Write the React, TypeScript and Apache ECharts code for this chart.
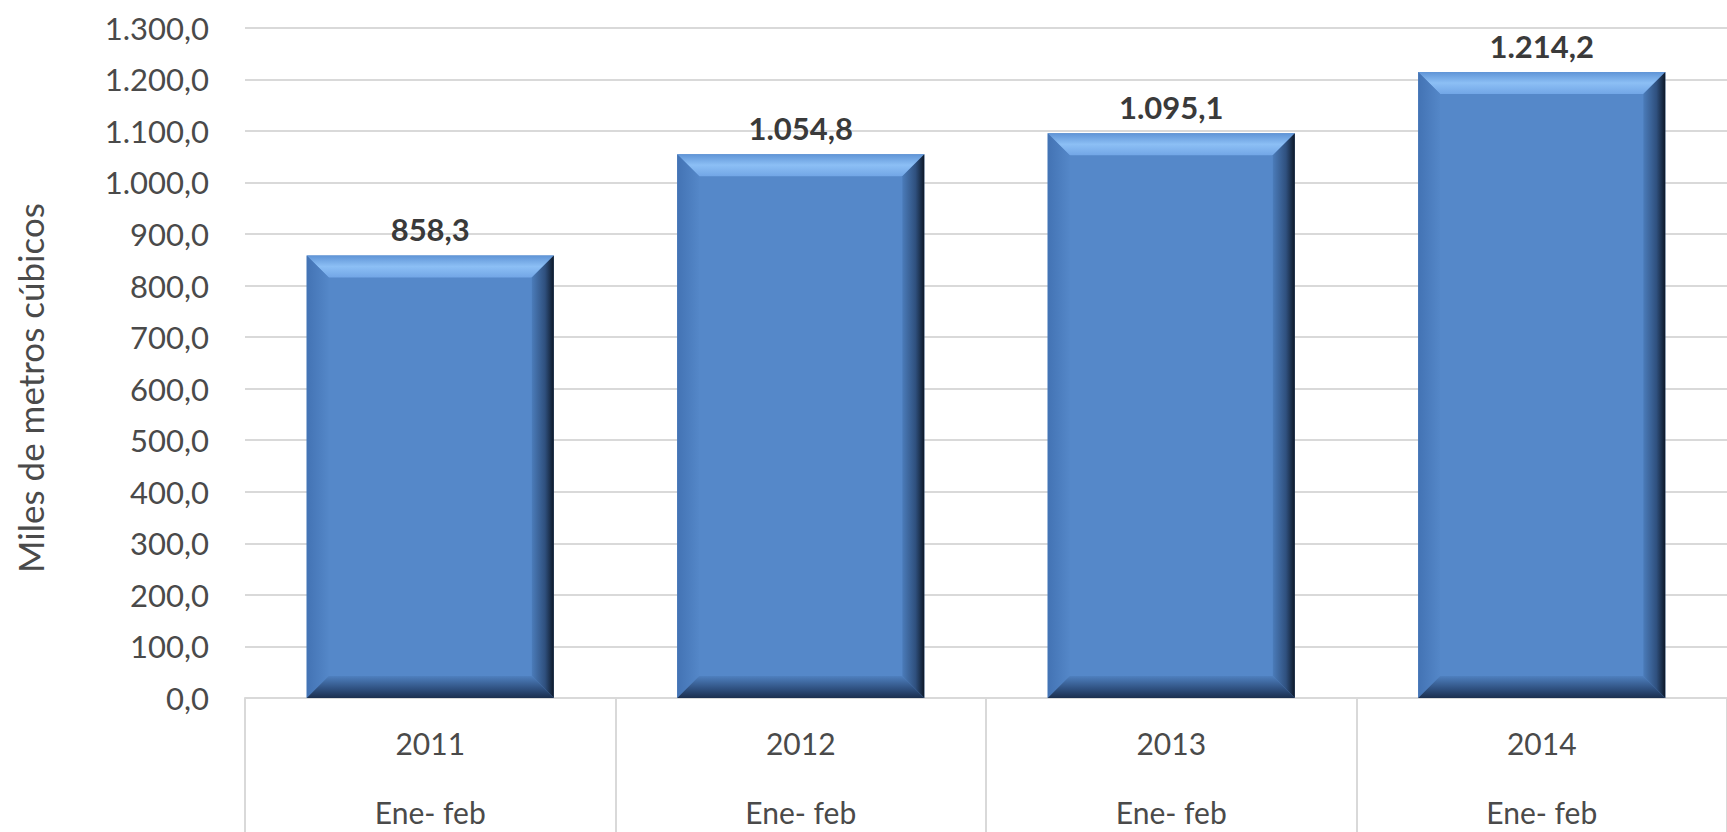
import React, { useEffect, useRef } from "react";
import * as echarts from "echarts";

const categories = ["2011", "2012", "2013", "2014"];
const periodLabels = ["Ene- feb", "Ene- feb", "Ene- feb", "Ene- feb"];
const values = [858.3, 1054.8, 1095.1, 1214.2];
const yAxisTitle = "Miles de metros cúbicos";
const yMin = 0;
const yMax = 1300;
const yInterval = 100;

const FONT = "Lato, 'Open Sans', sans-serif";
const TEXT = "#4a4a4a";

function fmt(v: number): string {
  const [i, d] = v.toFixed(1).split(".");
  return i.replace(/\B(?=(\d{3})+(?!\d))/g, ".") + "," + d;
}

export default function App() {
  const ref = useRef<HTMLDivElement>(null);

  useEffect(() => {
    document.body.style.margin = "0";
    document.body.style.overflow = "hidden";
    const chart = echarts.init(ref.current!, null, { renderer: "svg" });

    const renderItem = (params: any, api: any) => {
      const idx = api.value(0);
      const val = api.value(1);
      const top = api.coord([idx, val]);
      const base = api.coord([idx, 0]);
      const w = api.size([1, 0])[0] * 0.667;
      const x0 = top[0] - w / 2;
      const x1 = top[0] + w / 2;
      const yt = top[1];
      const yb = base[1];
      const b = 22;
      const G = echarts.graphic.LinearGradient;
      return {
        type: "group",
        children: [
          {
            type: "rect",
            shape: { x: x0, y: yt, width: w, height: yb - yt },
            style: { fill: "#5588c9" },
          },
          {
            type: "polygon",
            shape: { points: [[x0, yt], [x1, yt], [x1 - b, yt + b], [x0 + b, yt + b]] },
            style: {
              fill: new G(0, 0, 0, 1, [
                { offset: 0, color: "#5f94d6" },
                { offset: 0.5, color: "#8cbff5" },
                { offset: 1, color: "#72a6e6" },
              ]),
            },
          },
          {
            type: "polygon",
            shape: { points: [[x0, yt], [x0 + b, yt + b], [x0 + b, yb - b], [x0, yb]] },
            style: {
              fill: new G(0, 0, 1, 0, [
                { offset: 0, color: "#4373b4" },
                { offset: 1, color: "#5487c8" },
              ]),
            },
          },
          {
            type: "polygon",
            shape: { points: [[x1, yt], [x1, yb], [x1 - b, yb - b], [x1 - b, yt + b]] },
            style: {
              fill: new G(0, 0, 1, 0, [
                { offset: 0, color: "#4b7cba" },
                { offset: 0.6, color: "#2f507e" },
                { offset: 1, color: "#0d1828" },
              ]),
            },
          },
          {
            type: "polygon",
            shape: { points: [[x0, yb], [x1, yb], [x1 - b, yb - b], [x0 + b, yb - b]] },
            style: {
              fill: new G(0, 0, 0, 1, [
                { offset: 0, color: "#4f80bf" },
                { offset: 0.6, color: "#2e4f7e" },
                { offset: 1, color: "#1b2f4e" },
              ]),
            },
          },
          {
            type: "text",
            x: top[0],
            y: yt - 26,
            style: {
              text: fmt(val),
              fill: "#3a3a3a",
              fontSize: 31,
              fontWeight: "bold",
              fontFamily: FONT,
              align: "center",
              verticalAlign: "middle",
            },
          },
        ],
      };
    };

    chart.setOption({
      animation: false,
      backgroundColor: "#ffffff",
      grid: { left: 245, right: -12, top: 27.7, bottom: 134, containLabel: false },
      xAxis: {
        type: "category",
        data: categories,
        axisLine: { show: true, lineStyle: { color: "#d9d9d9", width: 2 } },
        axisTick: { show: true, length: 140, interval: 0, lineStyle: { color: "#d9d9d9", width: 2 } },
        axisLabel: {
          interval: 0,
          margin: 10,
          formatter: (value: string, index: number) => `{a|${value}}\n{b|${periodLabels[index]}}`,
          rich: {
            a: { fontSize: 30, lineHeight: 69, color: TEXT, fontFamily: FONT },
            b: { fontSize: 30, lineHeight: 69, color: TEXT, fontFamily: FONT },
          },
        },
      },
      yAxis: {
        type: "value",
        min: yMin,
        max: yMax,
        interval: yInterval,
        axisLine: { show: false },
        axisTick: { show: false },
        axisLabel: {
          margin: 36,
          color: TEXT,
          fontSize: 31,
          fontFamily: FONT,
          formatter: (v: number) => fmt(v),
        },
        splitLine: { lineStyle: { color: "#d9d9d9", width: 2 } },
      },
      graphic: [
        {
          type: "text",
          x: 30,
          y: 388,
          rotation: Math.PI / 2,
          style: {
            text: yAxisTitle,
            fill: TEXT,
            fontSize: 35,
            fontFamily: FONT,
            align: "center",
            verticalAlign: "middle",
          },
        },
      ],
      series: [
        {
          type: "custom",
          renderItem,
          encode: { x: 0, y: 1 },
          data: values.map((v, i) => [i, v]),
          z: 3,
        },
      ],
    });

    return () => chart.dispose();
  }, []);

  return <div ref={ref} style={{ width: 1727, height: 832 }} />;
}
